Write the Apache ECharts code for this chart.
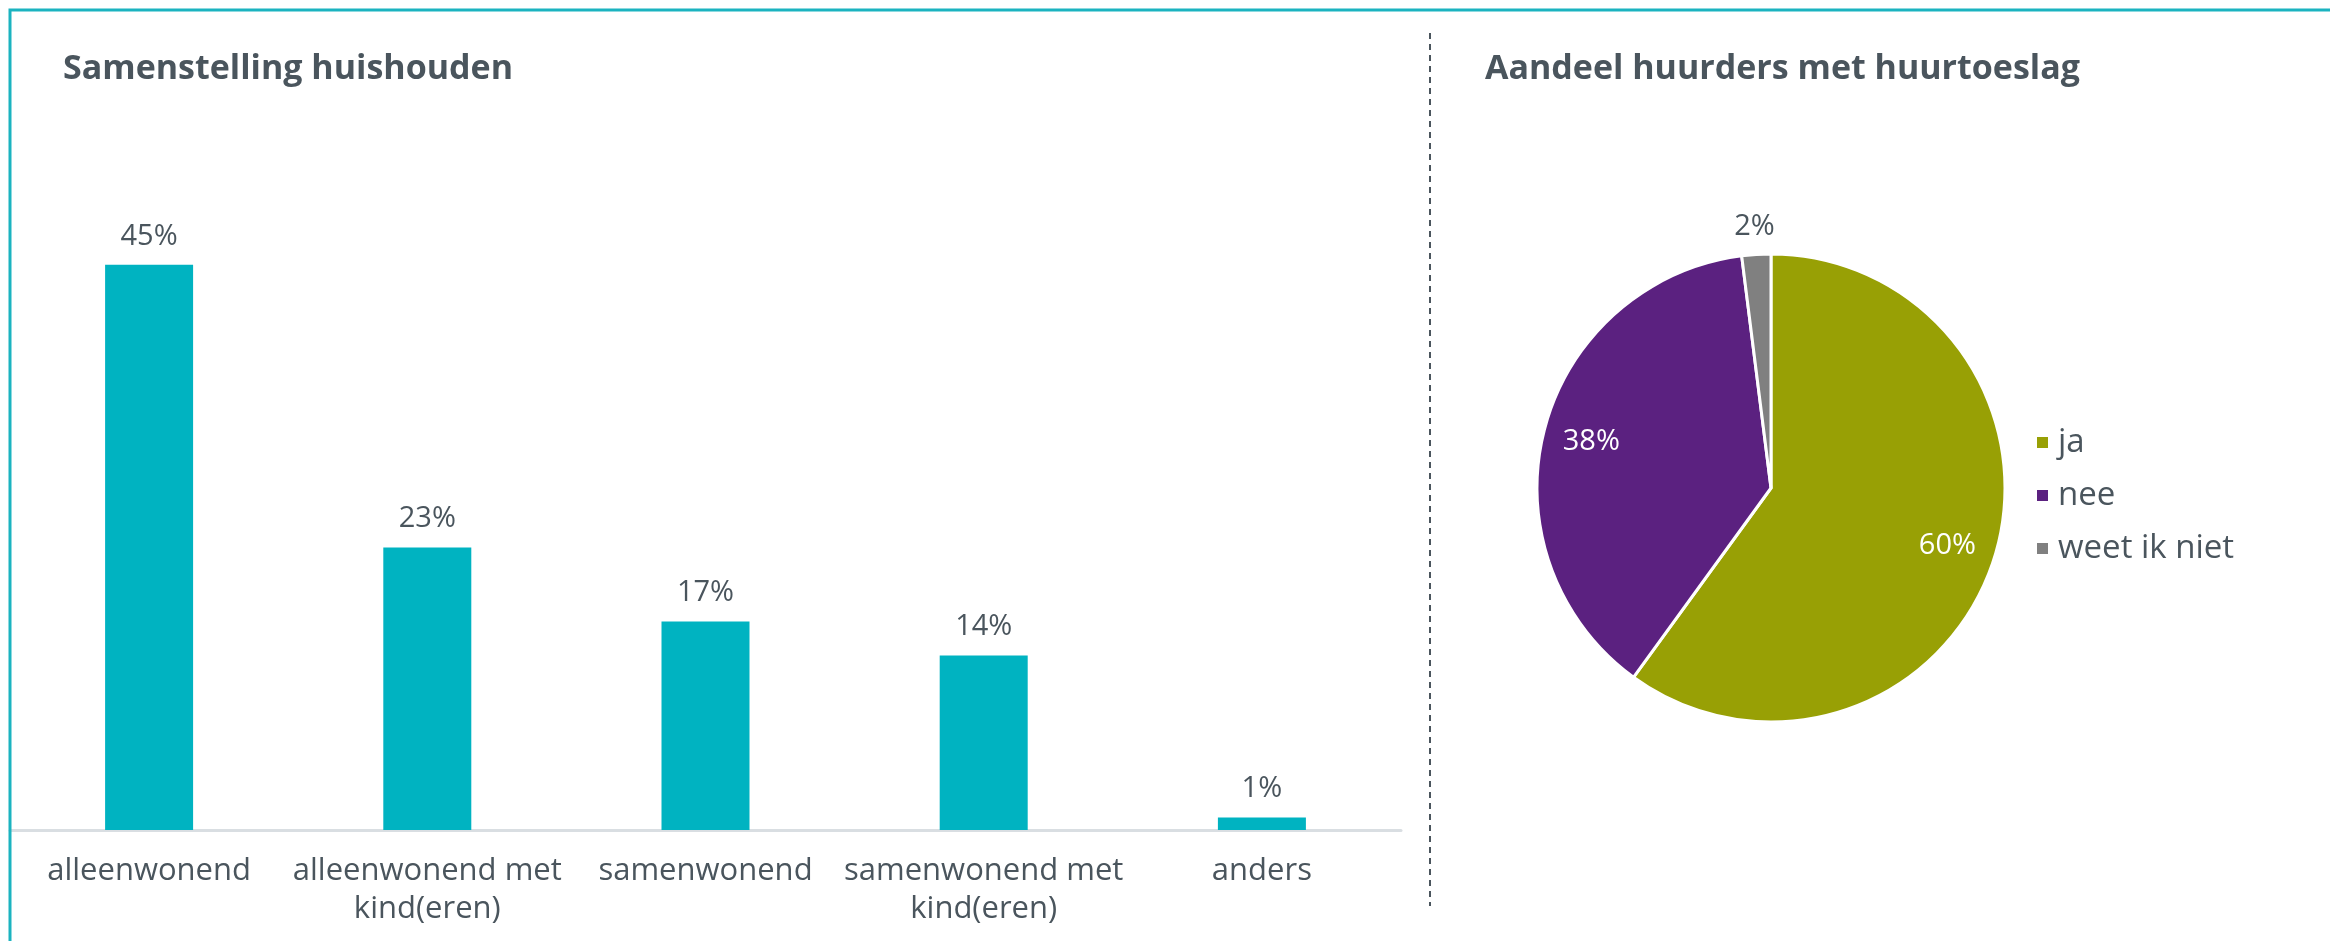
<!DOCTYPE html>
<html>
<head>
<meta charset="utf-8">
<script src="https://cdn.jsdelivr.net/npm/echarts@6/dist/echarts.min.js"></script>
<style>
html, body { margin: 0; padding: 0; background: #ffffff; }
#chart { width: 2330px; height: 941px; }
</style>
</head>
<body>
<div id="chart"></div>
<script>
// ---- data ----
const barTitle = 'Samenstelling huishouden';
const pieTitle = 'Aandeel huurders met huurtoeslag';
const categories = ['alleenwonend', 'alleenwonend met\nkind(eren)', 'samenwonend', 'samenwonend met\nkind(eren)', 'anders'];
const shares = [45, 22.5, 16.6, 13.9, 1];
const pieNames = ['ja', 'nee', 'weet ik niet'];
const pieValues = [60, 38, 2];

// ---- styles ----
const textColor = '#4a555d';
const barColor = '#00b3c1';
const pieColors = ['#98a005', '#5b2180', '#808080'];
const font = '"Open Sans", "Noto Sans", sans-serif';

const chart = echarts.init(document.getElementById('chart'), null, { renderer: 'canvas' });

const pieData = pieNames.map((n, i) => ({ name: n, value: pieValues[i], itemStyle: { color: pieColors[i] } }));
const center = [1771, 488];
const R = 234;

chart.setOption({
  animation: false,
  backgroundColor: '#ffffff',
  textStyle: { fontFamily: font },
  title: [
    { text: barTitle, left: 58, top: 47, textStyle: { fontFamily: font, fontWeight: 'bold', fontSize: 34, color: textColor } },
    { text: pieTitle, left: 1480, top: 47, textStyle: { fontFamily: font, fontWeight: 'bold', fontSize: 34, color: textColor } }
  ],
  legend: {
    data: pieNames,
    orient: 'vertical',
    left: 2030,
    top: 421,
    icon: 'rect',
    itemWidth: 13,
    itemHeight: 13,
    itemGap: 20,
    textStyle: { fontFamily: font, fontSize: 33, color: textColor, padding: [0, 0, 0, 4] }
  },
  grid: { left: 10, right: 929, top: 202, bottom: 111, containLabel: false },
  xAxis: {
    type: 'category',
    data: categories,
    axisLine: { show: true, lineStyle: { color: '#d9dee2', width: 3 } },
    axisTick: { show: false },
    axisLabel: { interval: 0, fontFamily: font, fontSize: 31, lineHeight: 38, margin: 22, color: textColor }
  },
  yAxis: {
    type: 'value', min: 0, max: 50, show: false,
    splitLine: { show: false }
  },
  series: [
    {
      type: 'bar',
      data: shares,
      barWidth: 88,
      itemStyle: { color: barColor },
      label: {
        show: true, position: 'top', distance: 14,
        fontFamily: font, fontSize: 29, color: textColor,
        formatter: p => Math.round(p.value) + '%'
      }
    },
    {
      type: 'pie',
      name: 'huurtoeslag',
      center: center,
      radius: [0, R],
      startAngle: 90,
      clockwise: true,
      data: pieData,
      itemStyle: { borderColor: '#ffffff', borderWidth: 3 },
      label: { show: false },
      labelLine: { show: false },
      emphasis: { disabled: true }
    },
    {
      type: 'pie',
      name: 'labels-inner',
      center: center,
      radius: [131, R],
      startAngle: 90,
      clockwise: true,
      silent: true,
      data: pieNames.map((n, i) => ({ name: n, value: pieValues[i], label: { show: i < 2 } })),
      itemStyle: { color: 'rgba(0,0,0,0)', borderWidth: 0 },
      label: {
        show: true, position: 'inside',
        fontFamily: font, fontSize: 29, color: '#ffffff',
        formatter: p => p.value + '%'
      },
      labelLine: { show: false },
      emphasis: { disabled: true }
    },
    {
      type: 'pie',
      name: 'labels-outer',
      center: center,
      radius: [244, 274],
      startAngle: 90,
      clockwise: true,
      silent: true,
      data: pieNames.map((n, i) => ({ name: n, value: pieValues[i], label: { show: i === 2 } })),
      itemStyle: { color: 'rgba(0,0,0,0)', borderWidth: 0 },
      label: {
        show: true, position: 'inside',
        fontFamily: font, fontSize: 29, color: textColor,
        formatter: p => p.value + '%'
      },
      labelLine: { show: false },
      emphasis: { disabled: true }
    }
  ],
  graphic: [
    {
      type: 'rect', silent: true, z: 100,
      shape: { x: 10, y: 10, width: 2500, height: 1200 },
      style: { fill: null, stroke: '#1bb3c0', lineWidth: 3 }
    },
    {
      type: 'line', silent: true, z: 100,
      shape: { x1: 1430, y1: 33, x2: 1430, y2: 906 },
      style: { stroke: textColor, lineWidth: 2, lineDash: [6, 5] }
    }
  ]
});
</script>
</body>
</html>
